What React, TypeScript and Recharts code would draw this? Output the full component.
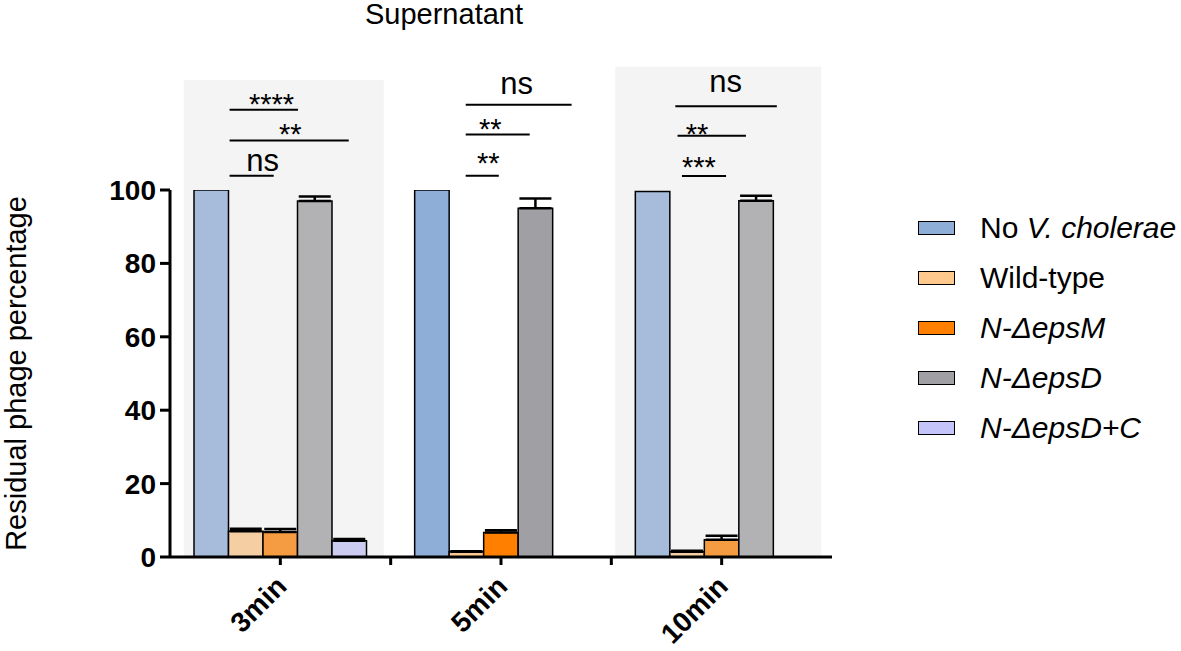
import React from "react";
import {
  BarChart,
  Bar,
  XAxis,
  YAxis,
  Cell,
  ErrorBar,
  Legend,
  Label,
  ReferenceArea,
  ReferenceLine,
  ReferenceDot,
} from "recharts";

// time points
const categories = ["3min", "5min", "10min"];

// residual phage percentage per strain
const noVCholerae = [100, 100, 99.6];
const wildType = [7.0, 1.4, 1.4];
const epsM = [6.8, 6.7, 4.7];
const epsD = [97.0, 95.0, 97.1];
const epsDC = [4.4, null, null];

// upper error (SEM)
const wildTypeErr = [0.7, 0.2, 0.3];
const epsMErr = [0.8, 0.6, 1.1];
const epsDErr = [1.2, 2.7, 1.3];
const epsDCErr = [0.5, null, null];

const yTicks = [0, 20, 40, 60, 80, 100];
const xTicks = [0.5, 1, 1.5, 2, 2.5];

// significance brackets: [x1, x2, y] in group units / percentage units
const sigLines = [
  [0.27, 0.58, 121.9],
  [0.27, 0.81, 113.5],
  [0.27, 0.47, 103.9],
  [1.34, 1.82, 123.2],
  [1.34, 1.63, 115.1],
  [1.34, 1.49, 103.9],
  [2.29, 2.75, 122.8],
  [2.3, 2.61, 114.8],
  [2.32, 2.52, 103.8],
];
// [x, y, text]
const sigLabels: [number, number, string][] = [
  [0.46, 125.0, "****"],
  [0.545, 116.9, "**"],
  [0.42, 107.5, "ns"],
  [1.571, 128.3, "ns"],
  [1.451, 118.2, "**"],
  [1.442, 108.9, "**"],
  [2.518, 129.0, "ns"],
  [2.388, 116.8, "**"],
  [2.397, 107.9, "***"],
];

// shaded groups: [x1, x2, yTop]
const shades = [
  [0.0625, 0.969, 130],
  [2.018, 2.951, 133.6],
];
const shadedGroups = [0, 2];

const data = categories.map((c, i) => ({
  pos: i + 0.5,
  time: c,
  noVC: noVCholerae[i],
  wt: wildType[i],
  wtErr: wildTypeErr[i],
  epsM: epsM[i],
  epsMErr: epsMErr[i],
  epsD: epsD[i],
  epsDErr: epsDErr[i],
  epsDC: epsDC[i],
  epsDCErr: epsDCErr[i],
}));

const series = [
  { key: "noVC", err: null, color: "#8eaed8", label: <>No <i>V. cholerae</i></> },
  { key: "wt", err: "wtErr", color: "#ffc88c", label: <>Wild-type</> },
  { key: "epsM", err: "epsMErr", color: "#ff8000", label: <i>N-ΔepsM</i> },
  { key: "epsD", err: "epsDErr", color: "#a0a0a4", label: <i>N-ΔepsD</i> },
  { key: "epsDC", err: "epsDCErr", color: "#c4c4fa", label: <i>N-ΔepsD+C</i> },
];

const FONT = "'Liberation Sans', Arial, sans-serif";

// mix a colour with the light grey panel that sits over groups 1 and 3
function pale(hex: string) {
  const a = 0.3;
  const g = 221;
  const n = parseInt(hex.slice(1), 16);
  const ch = [(n >> 16) & 255, (n >> 8) & 255, n & 255].map((v) =>
    Math.round(v * (1 - a) + g * a)
  );
  return `rgb(${ch.join(",")})`;
}

const XTick = (props: any) => {
  const { x, payload } = props;
  const v = payload.value;
  if (Number.isInteger(v)) return <g />;
  const label = categories[Math.floor(v)];
  const ax = x + 8;
  const ay = 588;
  return (
    <text
      x={ax}
      y={ay}
      transform={`rotate(-45, ${ax}, ${ay})`}
      textAnchor="end"
      fontSize={28}
      fontWeight="bold"
      fill="#000"
      fontFamily={FONT}
    >
      {label}
    </text>
  );
};

const SigText = (text: string) => (props: any) => {
  const vb = props.viewBox;
  const cx = vb.x + vb.width / 2;
  const cy = vb.y + vb.height / 2;
  const star = text.includes("*");
  const fs = star ? 29 : 31;
  const base = cy + (star ? 0.55 : 0.26) * fs;
  return (
    <text x={cx} y={base} textAnchor="middle" fontSize={fs} fill="#000" fontFamily={FONT}>
      {text}
    </text>
  );
};

const LegendBox = () => (
  <div style={{ width: 349, paddingLeft: 86, boxSizing: "border-box", fontFamily: FONT }}>
    {series.map((s) => (
      <div key={s.key} style={{ height: 50, display: "flex", alignItems: "center" }}>
        <div
          style={{
            width: 35,
            height: 12,
            background: s.color,
            border: "1.5px solid #000",
            marginRight: 25,
          }}
        />
        <span style={{ fontSize: 30, color: "#000", whiteSpace: "nowrap" }}>{s.label}</span>
      </div>
    ))}
  </div>
);

export default function App() {
  return (
    <div style={{ position: "absolute", top: 0, left: 0, width: 1181, height: 651, background: "#fff" }}>
      <div
        style={{
          position: "absolute",
          top: 0,
          left: 344,
          width: 200,
          textAlign: "center",
          fontFamily: FONT,
          fontSize: 29,
          lineHeight: "29px",
          color: "#000",
        }}
      >
        Supernatant
      </div>
      <BarChart
        width={1181}
        height={651}
        data={data}
        margin={{ top: 190, right: 0, left: 0, bottom: 34 }}
        barGap={0}
        barSize={34.5}
        style={{ fontFamily: FONT }}
      >
        <XAxis
          dataKey="pos"
          type="number"
          domain={[0, 3]}
          ticks={xTicks}
          tick={<XTick />}
          tickSize={8}
          height={60}
          axisLine={{ stroke: "#000", strokeWidth: 3 }}
          tickLine={{ stroke: "#000", strokeWidth: 3 }}
          allowDataOverflow
        />
        <YAxis
          domain={[0, 100]}
          ticks={yTicks}
          width={170}
          tickSize={10}
          tickMargin={4}
          axisLine={{ stroke: "#000", strokeWidth: 3 }}
          tickLine={{ stroke: "#000", strokeWidth: 3 }}
          tick={{ fill: "#000", fontSize: 28, fontWeight: "bold", fontFamily: FONT }}
          allowDataOverflow
        >
          <Label
            value="Residual phage percentage"
            angle={-90}
            position="insideLeft"
            offset={16}
            style={{ textAnchor: "middle", fontSize: 29, fill: "#000", fontFamily: FONT }}
          />
        </YAxis>
        {shades.map(([x1, x2, top], i) => (
          <ReferenceArea
            key={`shade${i}`}
            x1={x1}
            x2={x2}
            y1={0}
            y2={top}
            fill="#f4f4f4"
            fillOpacity={1}
            stroke="none"
            ifOverflow="visible"
          />
        ))}
        {series.map((s) => (
          <Bar
            key={s.key}
            dataKey={s.key}
            fill={s.color}
            stroke="#000"
            strokeWidth={1.5}
            isAnimationActive={false}
          >
            {data.map((_, i) => (
              <Cell key={i} fill={shadedGroups.includes(i) ? pale(s.color) : s.color} />
            ))}
            {s.err && (
              <ErrorBar
                dataKey={(d: any) => (d[s.err as string] == null ? [0, 0] : [0, d[s.err as string]])}
                width={16}
                stroke="#000"
                strokeWidth={2.5}
                direction="y"
              />
            )}
          </Bar>
        ))}
        {sigLines.map(([x1, x2, y], i) => (
          <ReferenceLine
            key={`sl${i}`}
            segment={[
              { x: x1, y },
              { x: x2, y },
            ]}
            stroke="#000"
            strokeWidth={2}
            ifOverflow="visible"
          />
        ))}
        {sigLabels.map(([x, y, t], i) => (
          <ReferenceDot
            key={`st${i}`}
            x={x}
            y={y}
            r={1}
            fill="none"
            stroke="none"
            ifOverflow="visible"
            label={SigText(t)}
          />
        ))}
        <Legend
          layout="vertical"
          align="right"
          verticalAlign="top"
          wrapperStyle={{ top: 203 }}
          content={() => <LegendBox />}
        />
      </BarChart>
    </div>
  );
}
